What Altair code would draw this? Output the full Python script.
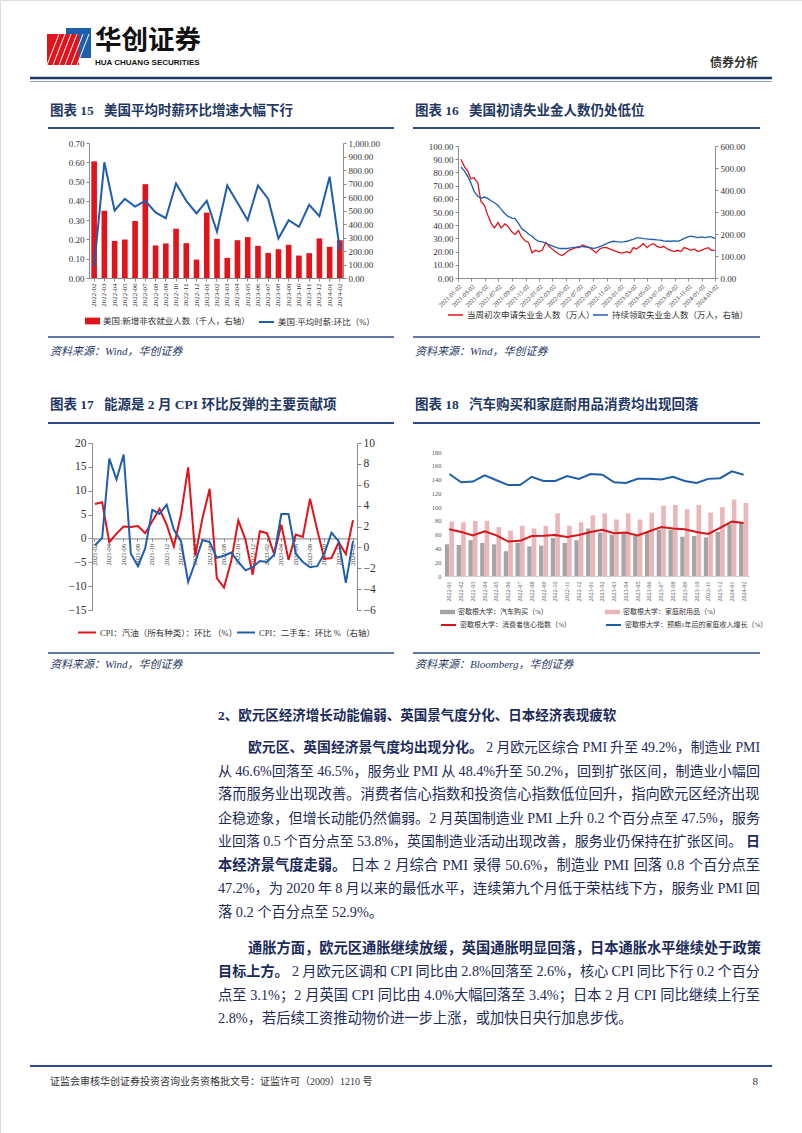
import altair as alt
import pandas as pd

W, H = 802, 1133
SERIF = "Liberation Serif, Noto Sans CJK SC"
NAVY = "#1F3864"
BODY = "#1C2B5A"
RED = "#E1141C"
BLUE = "#1F5EAD"
AXC = "#8C8C8C"
LAB = "#333333"

# ---------------- chart 15 data ----------------
c15_months = ["2022-02", "2022-03", "2022-04", "2022-05", "2022-06", "2022-07", "2022-08",
              "2022-09", "2022-10", "2022-11", "2022-12", "2023-01", "2023-02", "2023-03",
              "2023-04", "2023-05", "2023-06", "2023-07", "2023-08", "2023-09", "2023-10",
              "2023-11", "2023-12", "2024-01", "2024-02"]
c15_payrolls = [864, 499, 275, 285, 422, 695, 241, 256, 365, 258, 136, 484, 290, 149,
                280, 303, 238, 186, 213, 246, 166, 184, 293, 231, 280]
c15_wage = [0.06, 0.60, 0.35, 0.41, 0.37, 0.40, 0.34, 0.31, 0.49, 0.40, 0.335, 0.40, 0.24,
            0.48, 0.39, 0.30, 0.48, 0.41, 0.205, 0.30, 0.265, 0.38, 0.32, 0.525, 0.145]
c15_names = ["美国:新增非农就业人数（千人，右轴）", "美国:平均时薪:环比（%）"]
c15_left_ticks = [0.0, 0.1, 0.2, 0.3, 0.4, 0.5, 0.6, 0.7]
c15_right_ticks = [0, 100, 200, 300, 400, 500, 600, 700, 800, 900, 1000]

# ---------------- chart 16 data ----------------
c16_dates = pd.date_range("2021-01-15", "2024-03-01", freq="SMS")
c16_initial = [90, 84, 81, 75, 76, 72, 58, 55, 48, 41, 38, 42, 38, 41, 39, 35, 33, 36, 31, 28,
               27, 19, 21, 20, 21, 27, 24, 22, 20, 18, 17, 19, 21, 22, 23, 23, 25, 24, 23, 21,
               19, 22, 23, 23, 22, 21, 20, 19, 19, 20, 19, 23, 22, 24, 26, 23, 25, 26, 24, 23,
               24, 22, 21, 20, 21, 20, 23, 22, 21, 22, 20, 21, 22, 23, 21, 21]
c16_continuing = [505, 485, 462, 432, 395, 372, 362, 368, 362, 350, 342, 330, 312, 292, 280,
                  272, 270, 248, 225, 212, 200, 190, 176, 166, 164, 158, 152, 146, 140, 135,
                  134, 134, 136, 138, 140, 143, 143, 141, 139, 135, 137, 143, 148, 156, 163,
                  167, 165, 163, 164, 167, 172, 176, 182, 182, 179, 178, 176, 175, 173, 172,
                  169, 167, 167, 169, 167, 172, 180, 187, 190, 187, 184, 187, 184, 187, 187, 179]
c16_ticks = ["2021-01-02", "2021-03-02", "2021-05-02", "2021-07-02", "2021-09-02", "2021-11-02",
             "2022-01-02", "2022-03-02", "2022-05-02", "2022-07-02", "2022-09-02", "2022-11-02",
             "2023-01-02", "2023-03-02", "2023-05-02", "2023-07-02", "2023-09-02", "2023-11-02",
             "2024-01-02", "2024-03-02"]
c16_names = ["当周初次申请失业金人数（万人）", "持续领取失业金人数（万人，右轴）"]
c16_left_ticks = [0, 10, 20, 30, 40, 50, 60, 70, 80, 90, 100]
c16_right_ticks = [0, 100, 200, 300, 400, 500, 600]

# ---------------- chart 17 data ----------------
c17_months = ["2021-02", "2021-03", "2021-04", "2021-05", "2021-06", "2021-07", "2021-08",
              "2021-09", "2021-10", "2021-11", "2021-12", "2022-01", "2022-02", "2022-03",
              "2022-04", "2022-05", "2022-06", "2022-07", "2022-08", "2022-09", "2022-10",
              "2022-11", "2022-12", "2023-01", "2023-02", "2023-03", "2023-04", "2023-05",
              "2023-06", "2023-07", "2023-08", "2023-09", "2023-10", "2023-11", "2023-12",
              "2024-01", "2024-02"]
c17_gasoline = [7.2, 7.6, -0.8, 1.0, 2.5, 2.4, 2.6, 1.1, 3.6, 6.2, 2.9, -1.7, 5.0, 14.9, -3.6,
                4.3, 10.4, -8.3, -10.3, -4.8, 3.8, -0.3, -7.6, 1.5, 1.1, -3.3, 2.9, -4.5, 0.8,
                0.3, 8.3, 1.8, -4.3, -4.1, -0.8, -3.3, 3.8]
c17_usedcar = [0.2, 0.9, 8.5, 6.5, 8.9, -0.6, -1.8, -0.1, 3.6, 3.2, 4.1, 1.7, 0.6, -3.3, -1.4,
               0.7, 0.5, -1.0, -0.8, -0.5, -1.4, -2.2, -1.9, -1.3, -1.4, -0.7, 3.2, 3.2, -0.6,
               -1.4, -1.9, -1.8, -0.6, 1.4, 0.6, -3.4, 0.6]
c17_names = ["CPI：汽油（所有种类）：环比 （%）", "CPI：二手车：环比 %（右轴）"]
c17_left_ticks = [-15, -10, -5, 0, 5, 10, 15, 20]
c17_right_ticks = [-6, -4, -2, 0, 2, 4, 6, 8, 10]

# ---------------- chart 18 data ----------------
c18_months = ["2022-01", "2022-02", "2022-03", "2022-04", "2022-05", "2022-06", "2022-07",
              "2022-08", "2022-09", "2022-10", "2022-11", "2022-12", "2023-01", "2023-02",
              "2023-03", "2023-04", "2023-05", "2023-06", "2023-07", "2023-08", "2023-09",
              "2023-10", "2023-11", "2023-12", "2024-01", "2024-02"]
c18_cars = [46, 45, 52, 48, 46, 36, 48, 43, 44, 55, 48, 52, 69, 63, 60, 63, 59, 64, 67, 67,
            57, 58, 56, 64, 75, 77]
c18_durables = [79, 78, 80, 80, 71, 66, 73, 69, 73, 91, 73, 78, 88, 91, 82, 91, 82, 92, 102,
                103, 97, 103, 92, 100, 111, 106]
c18_sentiment = [68, 64, 59, 65, 59, 50, 51, 58, 58.5, 59.5, 56.5, 59.5, 64, 67, 62, 63, 59,
                 65, 71, 69, 68, 64, 61, 70, 79, 77]
c18_income = [148, 136, 137, 146, 139, 132, 132, 144, 138, 138, 145, 141, 148, 147, 136, 135,
              141, 141, 140, 144, 138, 135, 141, 142, 152, 147]
c18_names = ["密歇根大学：汽车购买（%）", "密歇根大学：家庭耐用品（%）",
             "密歇根大学：消费者信心指数（%）", "密歇根大学：预期1年后的家庭收入增长（%）"]
c18_ticks = [0, 20, 40, 60, 80, 100, 120, 140, 160, 180]

# ---------------- body text ----------------
HEADING = "2、欧元区经济增长动能偏弱、英国景气度分化、日本经济表现疲软"
PARA1 = [
    [("欧元区、英国经济景气度均出现分化。", True), ("2 月欧元区综合 PMI 升至 49.2%，制造业 PMI", False)],
    [("从 46.6%回落至 46.5%，服务业 PMI 从 48.4%升至 50.2%，回到扩张区间，制造业小幅回", False)],
    [("落而服务业出现改善。消费者信心指数和投资信心指数低位回升，指向欧元区经济出现", False)],
    [("企稳迹象，但增长动能仍然偏弱。2 月英国制造业 PMI 上升 0.2 个百分点至 47.5%，服务", False)],
    [("业回落 0.5 个百分点至 53.8%，英国制造业活动出现改善，服务业仍保持在扩张区间。", False), ("日", True)],
    [("本经济景气度走弱。", True), ("日本 2 月综合 PMI 录得 50.6%，制造业 PMI 回落 0.8 个百分点至", False)],
    [("47.2%，为 2020 年 8 月以来的最低水平，连续第九个月低于荣枯线下方，服务业 PMI 回", False)],
    [("落 0.2 个百分点至 52.9%。", False)],
]
PARA2 = [
    [("通胀方面，欧元区通胀继续放缓，英国通胀明显回落，日本通胀水平继续处于政策", True)],
    [("目标上方。", True), ("2 月欧元区调和 CPI 同比由 2.8%回落至 2.6%，核心 CPI 同比下行 0.2 个百分", False)],
    [("点至 3.1%；2 月英国 CPI 同比由 4.0%大幅回落至 3.4%；日本 2 月 CPI 同比继续上行至", False)],
    [("2.8%，若后续工资推动物价进一步上涨，或加快日央行加息步伐。", False)],
]


# ---------------- helpers ----------------
def blank():
    return alt.Chart(alt.Data(values=[{"k": 0}]))


def T(s, x, y, size=14.25, bold=False, color=BODY, align="left", italic=False, font=SERIF):
    kw = dict(text=s, align=align, baseline="middle", fontSize=size, font=font, color=color)
    if bold:
        kw["fontWeight"] = "bold"
    if italic:
        kw["fontStyle"] = "italic"
    return blank().mark_text(**kw).encode(x=alt.value(x), y=alt.value(y))


def R(x1, x2, y, color=NAVY, w=1.5):
    return blank().mark_rule(color=color, strokeWidth=w).encode(
        x=alt.value(x1), x2=alt.value(x2), y=alt.value(y))


def SEG(x1, y1, x2, y2, color, w):
    return blank().mark_rule(color=color, strokeWidth=w).encode(
        x=alt.value(x1), x2=alt.value(x2), y=alt.value(y1), y2=alt.value(y2))


def BOX(x1, y1, x2, y2, color):
    return blank().mark_rect(color=color).encode(
        x=alt.value(x1), x2=alt.value(x2), y=alt.value(y1), y2=alt.value(y2))


def ax(orient, pos, **kw):
    off = {"left": -pos, "right": pos - W, "bottom": pos - H}[orient]
    base = dict(orient=orient, offset=off, title=None, grid=False, labelOverlap=False,
                labelFont=SERIF, labelColor=LAB, domainColor=AXC, tickColor=AXC,
                tickSize=3, labelPadding=2)
    base.update(kw)
    return alt.Axis(**base)


RECT_SYM = "M-1,-0.45H1V0.45H-1Z"
THIN_SYM = "M-1,-0.3H1V0.3H-1Z"


def lg(x, yc, sym, size=225, fs=8.5, sw=2):
    return alt.Legend(orient="none", legendX=x, legendY=yc - 7.5, title=None, symbolType=sym,
                      symbolSize=size, symbolStrokeWidth=sw, labelFont=SERIF, labelFontSize=fs,
                      labelColor=LAB, padding=0, labelOffset=3, labelLimit=0)


def col(field, name, color, legend):
    return alt.Color(field + ":N", scale=alt.Scale(domain=[name], range=[color]), legend=legend)


FS = 14.25
MIN_GAP = 3.2
LATIN_W = {".": 0.25, "%": 0.833, "P": 0.556, "M": 0.889, "I": 0.333, "C": 0.667}


def est_em(s):
    w = 0.0
    for ch in s:
        if ord(ch) >= 0x2E80:
            w += 1.0
        elif ch.isdigit():
            w += 0.5
        else:
            w += LATIN_W.get(ch, 0.5)
    return w


def line_layers(segments, x0, x1, y, justify=True):
    runs = []
    for text, bold in segments:
        for part in text.split(" "):
            if part:
                runs.append((part, bold))
    out = []
    ems = [est_em(t) for t, _ in runs]
    if not justify or len(runs) == 1:
        x = x0
        for i, (t, b) in enumerate(runs):
            out.append(T(t, x, y, size=FS, bold=b))
            x += (ems[i] + 0.25) * FS
        return out
    n = len(runs)
    avail = x1 - x0
    fs = FS
    if sum(ems) * fs + (n - 1) * MIN_GAP > avail:
        fs = (avail - (n - 1) * MIN_GAP) / sum(ems)
    widths = [e * fs for e in ems]
    gap = (avail - sum(widths)) / (n - 1)
    x = x0
    for i, (t, b) in enumerate(runs):
        if i == n - 1:
            out.append(T(t, x1, y, size=fs, bold=b, align="right"))
        else:
            out.append(T(t, x, y, size=fs, bold=b))
        x += widths[i] + gap
    return out


layers = []

# ---------------- page header ----------------
layers += [
    BOX(66, 28, 91, 58, "#1F5EAD"),
    BOX(47, 34, 79, 65, "#E1141C"),
]
for i in range(6):
    layers.append(SEG(47 + i * 6, 65, 47 + i * 6 + 12, 34, "white", 1))
layers += [
    T("华创证券", 95, 41, size=26.5, bold=True, color="#111111", font="Noto Sans CJK SC"),
    T("HUA CHUANG SECURITIES", 95, 63, size=8, bold=True, color="#111111",
      font="Liberation Sans Narrow, Liberation Sans"),
    T("债券分析", 758, 63, size=12, bold=True, color="#333333", align="right"),
    R(30, 772, 78, NAVY, 2.5),
    R(30, 772, 81.5, "#8EA0C4", 1),
]

# ---------------- titles / frames ----------------
SP = "\u00a0\u00a0\u00a0"
layers += [
    T("图表 15" + SP + "美国平均时薪环比增速大幅下行", 50, 111, size=13.5, bold=True, color=NAVY),
    T("图表 16" + SP + "美国初请失业金人数仍处低位", 415, 111, size=13.5, bold=True, color=NAVY),
    R(48, 394, 128, "#2F4A8A", 2), R(413, 760, 128, "#2F4A8A", 2),
    R(48, 394, 337, "#2F4A8A", 1.5), R(413, 760, 337, "#2F4A8A", 1.5),
    T("资料来源：Wind，华创证券", 50, 352, size=11, italic=True, color=NAVY),
    T("资料来源：Wind，华创证券", 415, 352, size=11, italic=True, color=NAVY),
    T("图表 17" + SP + "能源是 2 月 CPI 环比反弹的主要贡献项", 50, 405, size=13.5, bold=True, color=NAVY),
    T("图表 18" + SP + "汽车购买和家庭耐用品消费均出现回落", 415, 405, size=13.5, bold=True, color=NAVY),
    R(48, 394, 423, "#2F4A8A", 2), R(413, 760, 423, "#2F4A8A", 2),
    R(48, 394, 653, "#2F4A8A", 1.5), R(413, 760, 653, "#2F4A8A", 1.5),
    T("资料来源：Wind，华创证券", 50, 665, size=11, italic=True, color=NAVY),
    T("资料来源：Bloomberg，华创证券", 415, 665, size=11, italic=True, color=NAVY),
]

# ---------------- chart 15 ----------------
df15 = pd.DataFrame({"month": c15_months, "payrolls": c15_payrolls, "wage": c15_wage,
                     "s1": c15_names[0], "s2": c15_names[1]})
x15 = alt.Scale(type="band", domain=c15_months, range=[89, 345], paddingInner=0.45,
                paddingOuter=0.225)
layers.append(alt.Chart(df15).mark_bar().encode(
    x=alt.X("month:N", sort=None, scale=x15,
            axis=ax("bottom", 278, labelAngle=270, labelFontSize=7)),
    y=alt.Y("payrolls:Q", scale=alt.Scale(domain=[0, 1000], range=[278, 143], nice=False),
            axis=ax("right", 343, values=c15_right_ticks, format=",.2f", labelFontSize=9)),
    color=col("s1", c15_names[0], RED, lg(85, 321, RECT_SYM, sw=0)),
))
layers.append(alt.Chart(df15).mark_line(strokeWidth=2).encode(
    x=alt.X("month:N", sort=None, scale=x15, axis=None),
    y=alt.Y("wage:Q", scale=alt.Scale(domain=[0, 0.7], range=[278, 143], nice=False),
            axis=ax("left", 89, values=c15_left_ticks, format=".2f", labelFontSize=9)),
    color=col("s2", c15_names[1], BLUE, lg(258, 321, "stroke")),
))

# ---------------- chart 16 ----------------
df16 = pd.DataFrame({"date": c16_dates, "initial": c16_initial, "cont": c16_continuing,
                     "s1": c16_names[0], "s2": c16_names[1]})


def dt(s):
    return alt.DateTime(year=int(s[:4]), month=int(s[5:7]), date=int(s[8:10]))


x16 = alt.Scale(type="time", domain=[dt(c16_ticks[0]), dt(c16_ticks[-1])], range=[458, 715])
layers.append(alt.Chart(df16).mark_line(strokeWidth=1.3).encode(
    x=alt.X("date:T", scale=x16,
            axis=ax("bottom", 278, values=[dt(s) for s in c16_ticks], format="%Y-%m-%d",
                    labelAngle=315, labelFontSize=6.3)),
    y=alt.Y("initial:Q", scale=alt.Scale(domain=[0, 100], range=[278, 146], nice=False),
            axis=ax("left", 458, values=c16_left_ticks, format=".2f", labelFontSize=9)),
    color=col("s1", c16_names[0], RED, lg(447, 314, "stroke", sw=1.5)),
))
layers.append(alt.Chart(df16).mark_line(strokeWidth=1.3).encode(
    x=alt.X("date:T", scale=x16, axis=None),
    y=alt.Y("cont:Q", scale=alt.Scale(domain=[0, 600], range=[278, 146], nice=False),
            axis=ax("right", 715, values=c16_right_ticks, format=".2f", labelFontSize=9)),
    color=col("s2", c16_names[1], BLUE, lg(592, 314, "stroke", sw=1.5)),
))

# ---------------- chart 17 ----------------
df17 = pd.DataFrame({"month": c17_months, "gas": c17_gasoline, "used": c17_usedcar,
                     "s1": c17_names[0], "s2": c17_names[1]})
x17 = alt.Scale(type="band", domain=c17_months, range=[91.4, 356.6], paddingInner=0,
                paddingOuter=0)
layers.append(alt.Chart(df17).mark_line(strokeWidth=2).encode(
    x=alt.X("month:N", sort=None, scale=x17,
            axis=ax("bottom", 538.4, values=c17_months[::2], labelAngle=270,
                    labelFontSize=6.5, domainColor="#7F7F7F")),
    y=alt.Y("gas:Q", scale=alt.Scale(domain=[-15, 20], range=[610, 443], nice=False, zero=False),
            axis=ax("left", 92, values=c17_left_ticks, labelFontSize=11.5, tickSize=4)),
    color=col("s1", c17_names[0], RED, lg(77, 630, "stroke", size=324)),
))
layers.append(alt.Chart(df17).mark_line(strokeWidth=2).encode(
    x=alt.X("month:N", sort=None, scale=x17, axis=None),
    y=alt.Y("used:Q", scale=alt.Scale(domain=[-6, 10], range=[610, 443], nice=False, zero=False),
            axis=ax("right", 357, values=c17_right_ticks, labelFontSize=11.5, tickSize=4)),
    color=col("s2", c17_names[1], BLUE, lg(236, 630, "stroke", size=324)),
))

# ---------------- chart 18 ----------------
df18 = pd.DataFrame({"month": c18_months, "cars": c18_cars, "dur": c18_durables,
                     "sent": c18_sentiment, "inc": c18_income,
                     "s1": c18_names[0], "s2": c18_names[1], "s3": c18_names[2],
                     "s4": c18_names[3]})
x18 = alt.Scale(type="band", domain=c18_months, range=[443.5, 749.5], paddingInner=0,
                paddingOuter=0)
y18 = alt.Scale(domain=[0, 180], range=[576, 452], nice=False)
layers.append(alt.Chart(df18).mark_bar(width=4.4, xOffset=-2.3).encode(
    x=alt.X("month:N", sort=None, scale=x18,
            axis=ax("bottom", 576, labelAngle=270, labelFontSize=6, labelColor="#595959",
                    domainColor="#D0D0D0", ticks=False, labelPadding=5)),
    y=alt.Y("cars:Q", scale=y18,
            axis=ax("left", 445, values=c18_ticks, labelFontSize=6.5, labelColor="#595959",
                    domain=False, ticks=False, labelPadding=4)),
    color=col("s1", c18_names[0], "#A5A5A5", lg(440, 612, THIN_SYM, fs=7, sw=0)),
))
layers.append(alt.Chart(df18).mark_bar(width=4.6, xOffset=2.3).encode(
    x=alt.X("month:N", sort=None, scale=x18, axis=None),
    y=alt.Y("dur:Q", scale=y18, axis=None),
    color=col("s2", c18_names[1], "#EAB6B8", lg(605, 612, THIN_SYM, fs=7, sw=0)),
))
layers.append(alt.Chart(df18).mark_line(strokeWidth=2).encode(
    x=alt.X("month:N", sort=None, scale=x18, axis=None),
    y=alt.Y("sent:Q", scale=y18, axis=None),
    color=col("s3", c18_names[2], "#D7141C", lg(440, 624, "stroke", fs=7)),
))
layers.append(alt.Chart(df18).mark_line(strokeWidth=2).encode(
    x=alt.X("month:N", sort=None, scale=x18, axis=None),
    y=alt.Y("inc:Q", scale=y18, axis=None),
    color=col("s4", c18_names[3], "#1F5EAD", lg(605, 624, "stroke", fs=7)),
))

# ---------------- body text ----------------
L0, IND, RX = 218, 248, 760
LS = 23.5
layers.append(T(HEADING, L0, 716, size=13.5, bold=True))
for i, segs in enumerate(PARA1):
    x0 = IND if i == 0 else L0
    layers += line_layers(segs, x0, RX, 748 + i * LS, justify=(i < len(PARA1) - 1))
for i, segs in enumerate(PARA2):
    x0 = IND if i == 0 else L0
    layers += line_layers(segs, x0, RX, 948.5 + i * LS, justify=(i < len(PARA2) - 1))

# ---------------- footer ----------------
layers += [
    R(30, 772, 1066, "#2F4A8A", 2),
    T("证监会审核华创证券投资咨询业务资格批文号：证监许可（2009）1210 号", 50, 1082, size=10,
      color="#333333"),
    T("8", 758, 1082, size=11, color="#333333", align="right"),
]

chart = alt.layer(*layers).properties(
    width=W, height=H, padding=0, autosize=alt.AutoSizeParams(type="none"),
).resolve_scale(
    x="independent", y="independent", color="independent"
).resolve_axis(
    x="independent", y="independent"
).resolve_legend(
    color="independent"
).configure_view(strokeWidth=0).configure(background="white")

chart.save("out.html", embed_options={"renderer": "svg", "actions": False})
